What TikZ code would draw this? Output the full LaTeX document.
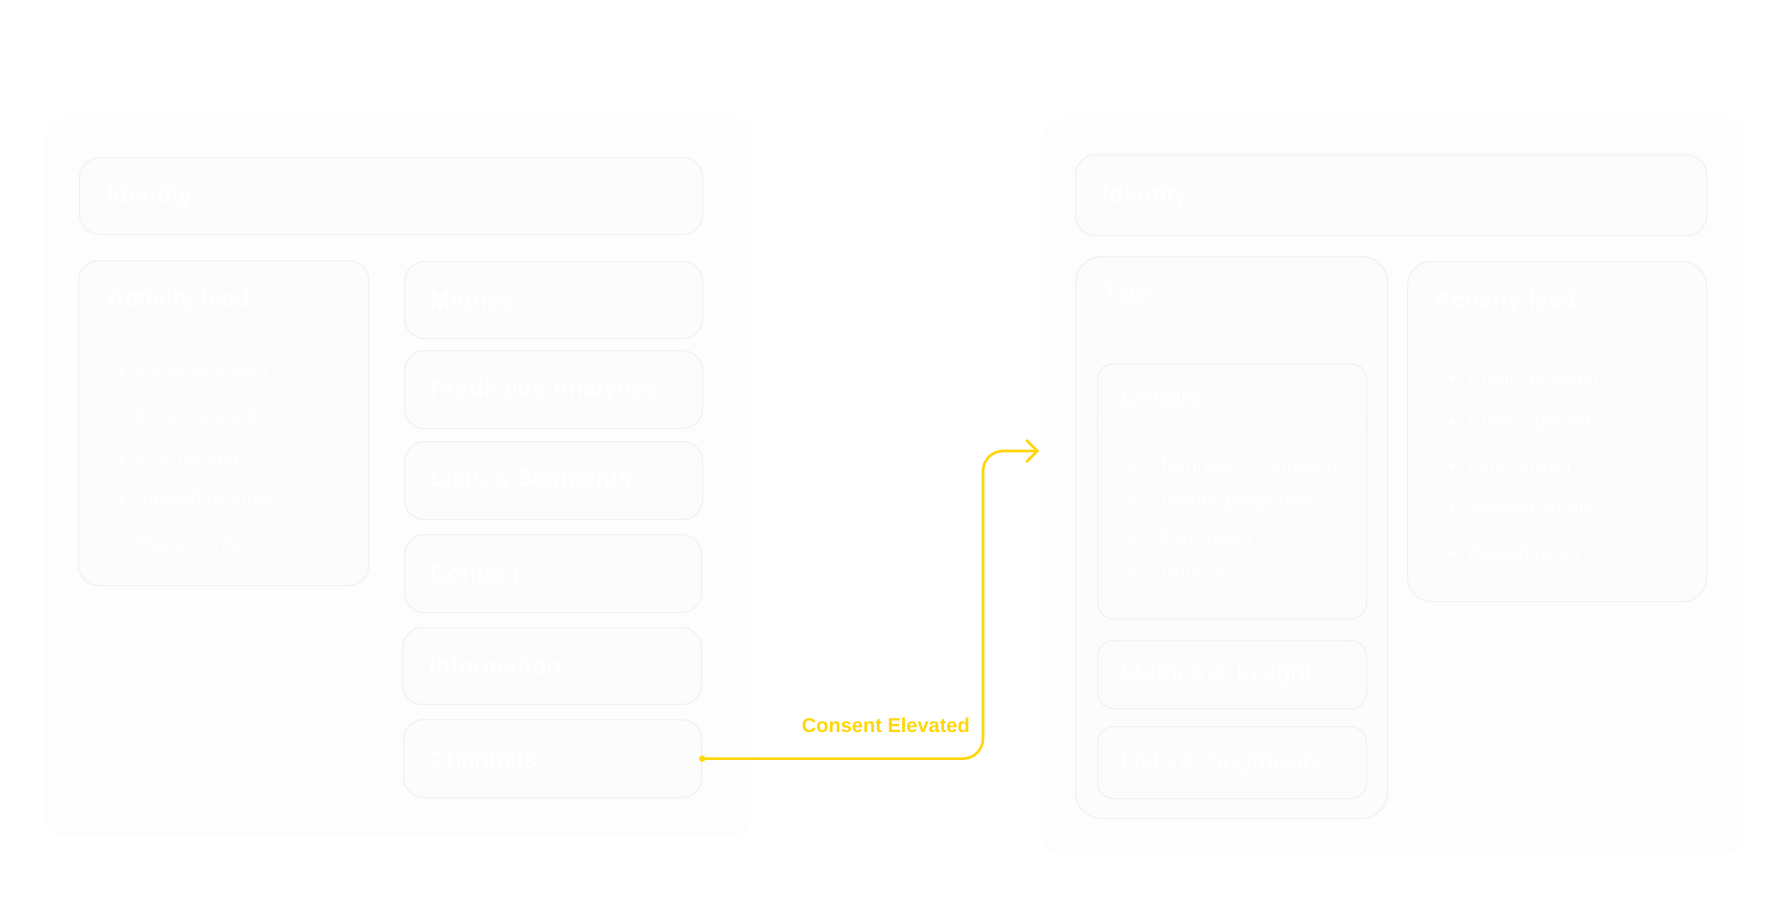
\documentclass[tikz,border=0pt]{standalone}
\usepackage{fontspec}
\setmainfont{Liberation Sans}
\newfontfamily\symfont{DejaVu Sans}
\usetikzlibrary{arrows.meta}
\definecolor{panelfill}{HTML}{FDFDFD}
\definecolor{boxfill}{HTML}{FCFCFC}
\definecolor{boxline}{HTML}{F2F2F2}
\definecolor{gold}{HTML}{FFD60A}
\tikzset{
  panel/.style={draw=none, fill=panelfill, rounded corners=22pt, anchor=north west, inner sep=0pt},
  box/.style={draw=boxline, line width=1.2pt, fill=boxfill, rounded corners=20pt, anchor=north west, inner sep=0pt},
  title/.style={anchor=west, text=white, font=\bfseries\fontsize{24}{30}\selectfont, inner sep=0pt},
  ltitle/.style={anchor=west, text=white, font=\fontsize{26}{30}\selectfont, inner sep=0pt},
  item/.style={anchor=west, text=white, font=\fontsize{20}{24}\selectfont, inner sep=0pt},
  subitem/.style={anchor=west, text=white, font=\fontsize{21}{25}\selectfont, inner sep=0pt},
  dotmark/.style={circle, fill=white, inner sep=0pt, minimum size=6pt},
  conn/.style={draw=gold, line width=2.6pt, rounded corners=20pt, line cap=round},
  lbl/.style={text=gold, font=\bfseries\fontsize{20}{24}\selectfont, inner sep=0pt}
}
\begin{document}
\begin{tikzpicture}[x=1pt, y=-1pt]
\useasboundingbox (0,0) rectangle (1780,910);
\fill[white] (0,0) rectangle (1780,910);

% ---------- left panel ----------
\node[panel, minimum width=707pt, minimum height=718pt] (lpanel) at (45,118) {};
\node[box, minimum width=623pt, minimum height=77pt] (lid) at (79,157) {};
\node[title] (lidt) at (107,197) {Identity};

\node[box, minimum width=290pt, minimum height=325pt] (lact) at (78,260) {};
\node[title] (lactt) at (107,300) {Activity feed};
\foreach \y/\t [count=\i] in {373/Email received,417/Email opened,458/Link clicked,500/Viewed product,543/Placed order}{
  \node[dotmark] (lb\i) at (121,\y) {};
  \node[item] (lbt\i) at (136,\y) {\t};
}

\node[box, minimum width=298pt, minimum height=77pt] (lmet) at (404,261) {};
\node[title] at (430,300) {Metrics};
\node[box, minimum width=298pt, minimum height=78pt] (lpred) at (404,350) {};
\node[title] at (430,390) {Predictive Analytics};
\node[box, minimum width=298pt, minimum height=78pt] (llist) at (404,441) {};
\node[title] at (430,480) {Lists \& Segments};
\node[box, minimum width=297pt, minimum height=78pt] (lcont) at (404,534) {};
\node[title] at (430,573) {Contact};
\node[box, minimum width=299pt, minimum height=77pt] (linfo) at (402,627) {};
\node[title] at (429,666) {Information};
\node[box, minimum width=298pt, minimum height=78pt] (chan) at (403,719) {};
\node[title] at (429,760) {Channels};

% ---------- right panel ----------
\node[panel, minimum width=704pt, minimum height=736pt] (rpanel) at (1041,118) {};
\node[box, minimum width=631pt, minimum height=81pt] (rid) at (1075,154) {};
\node[title] at (1102,196) {Identity};

\node[box, minimum width=312pt, minimum height=562pt, rounded corners=26pt] (tabs) at (1075,256) {};
\node[ltitle] at (1102,293) {Tabs};

\node[box, minimum width=269pt, minimum height=255pt, rounded corners=16pt] (det) at (1097,363) {};
\draw[white, line width=2pt] (1098,424) -- (1365,424);
\node[ltitle] at (1120,397) {Details};
\foreach \y/\t [count=\i] in {465/Channels + Consent,502/Custom properties,537/Information,572/Coupons}{
  \node[subitem] (ds\i) at (1124,\y) {{\symfont\fontsize{21}{22}\selectfont ↳}\hspace{5pt}\t};
}

\node[box, minimum width=269pt, minimum height=68pt, rounded corners=16pt] (rmet) at (1097,640) {};
\node[ltitle] at (1120,675) {Metrics \& Insights};
\node[box, minimum width=269pt, minimum height=72pt, rounded corners=16pt] (rlist) at (1097,726) {};
\node[ltitle] at (1120,763) {Lists \& Segments};

\node[box, minimum width=299pt, minimum height=340pt, rounded corners=24pt] (ract) at (1407,261) {};
\node[title] at (1434,302) {Activity feed};
\foreach \y/\t [count=\i] in {378/Email received,422/Email opened,466/Link clicked,509/Viewed product,553/Placed order}{
  \node[dotmark] (rb\i) at (1452,\y) {};
  \node[item] (rbt\i) at (1468,\y) {\t};
}

% ---------- connector ----------
\coordinate (bend) at (983,451);
\coordinate (tgt) at (1039,451);
\draw[conn, -{Straight Barb[length=11pt,width=22pt,line width=2.6pt]}] (chan.east) -| (bend) -- (tgt);
\fill[gold] (chan.east) circle (3.2pt);
\node[lbl, anchor=east] (clbl) at (970,725) {Consent Elevated};
\end{tikzpicture}
\end{document}
